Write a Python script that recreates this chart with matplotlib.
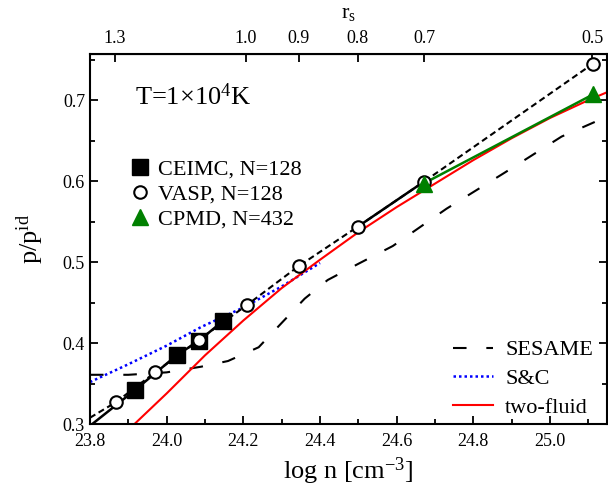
import numpy as np
import matplotlib.pyplot as plt
from matplotlib.lines import Line2D
from matplotlib.ticker import MultipleLocator, FormatStrFormatter

plt.rcParams['font.family'] = 'Liberation Serif'
plt.rcParams['mathtext.fontset'] = 'custom'
plt.rcParams['mathtext.rm'] = 'Liberation Serif'
plt.rcParams['mathtext.it'] = 'Liberation Serif:italic'

# log n = LOGN_RS1 - 3 log10(r_s)
LOGN_RS1 = 24.2071
rs_ticks = [1.3, 1.0, 0.9, 0.8, 0.7, 0.5]

# simulation data
ceimc_logn = [23.917, 24.026, 24.084, 24.146]
ceimc_p = [0.342, 0.385, 0.403, 0.427]
ceimc_line_logn = [23.80, 23.917, 24.026, 24.084, 24.146]
ceimc_line_p = [0.298, 0.342, 0.385, 0.403, 0.427]

vasp_logn = [23.867, 23.970, 24.084, 24.209, 24.344, 24.499, 24.670, 25.112]
vasp_p = [0.327, 0.364, 0.404, 0.447, 0.495, 0.544, 0.599, 0.745]
vasp_line_logn = [23.80] + vasp_logn
vasp_line_p = [0.308] + vasp_p
vasp_seg_logn = [24.499, 24.670]
vasp_seg_p = [0.544, 0.599]

cpmd_logn = [24.670, 25.112]
cpmd_p = [0.597, 0.707]

# models
sesame_logn = [23.80, 23.90, 24.00, 24.09, 24.16, 24.24, 24.30, 24.36, 24.42,
               24.50, 24.59, 24.73, 24.88, 25.03, 25.15]
sesame_p = [0.361, 0.361, 0.364, 0.371, 0.378, 0.395, 0.425, 0.455, 0.478,
            0.498, 0.520, 0.566, 0.610, 0.655, 0.680]

sc_logn = [23.80, 23.90, 24.00, 24.09, 24.20, 24.30, 24.40]
sc_p = [0.352, 0.374, 0.397, 0.420, 0.444, 0.470, 0.499]

tf_logn = [23.90, 24.00, 24.10, 24.20, 24.30, 24.40, 24.50, 24.60, 24.70,
           24.80, 24.90, 25.00, 25.10, 25.15]
tf_p = [0.293, 0.338, 0.385, 0.428, 0.468, 0.503, 0.537, 0.568, 0.597,
        0.626, 0.653, 0.678, 0.700, 0.710]

fig = plt.figure(figsize=(6.08, 4.95), dpi=100)
ax = fig.add_axes([0.148, 0.143, 0.850, 0.748])

ax.plot(sesame_logn, sesame_p, color='k', lw=1.5, dashes=(6.5, 9.5))
ax.plot(sc_logn, sc_p, color='blue', lw=1.8, ls=(0, (1, 1.2)))
ax.plot(tf_logn, tf_p, color='red', lw=1.5)
ax.plot(vasp_line_logn, vasp_line_p, color='k', lw=1.5, dashes=(3, 1.8))
ax.plot(vasp_seg_logn, vasp_seg_p, color='k', lw=1.8)
ax.plot(ceimc_line_logn, ceimc_line_p, color='k', lw=1.8)
ax.plot(cpmd_logn, cpmd_p, color='green', lw=1.8)

ax.plot(ceimc_logn, ceimc_p, ls='none', marker='s', ms=11, color='k')
ax.plot(vasp_logn, vasp_p, ls='none', marker='o', ms=9, mfc='white',
        mec='k', mew=1.5)
ax.plot(cpmd_logn, cpmd_p, ls='none', marker='^', ms=12, color='green')

ax.set_xlim(23.8, 25.148)
ax.set_ylim(0.3, 0.757)
ax.xaxis.set_major_locator(MultipleLocator(0.2))
ax.xaxis.set_minor_locator(MultipleLocator(0.1))
ax.yaxis.set_major_locator(MultipleLocator(0.1))
ax.yaxis.set_minor_locator(MultipleLocator(0.05))
ax.xaxis.set_major_formatter(FormatStrFormatter('%.1f'))
ax.yaxis.set_major_formatter(FormatStrFormatter('%.1f'))
ax.tick_params(which='both', direction='in', top=False, right=True,
               labelsize=13, width=1.3)
ax.tick_params(which='major', length=6)
ax.tick_params(which='minor', length=3.5)
ax.tick_params(axis='x', which='major', pad=6)
for s in ax.spines.values():
    s.set_linewidth(1.5)

ax.set_xlabel('log n [cm$^{-3}$]', fontsize=19, labelpad=4)
ax.set_ylabel('p/p$^{\\mathrm{id}}$', fontsize=19, labelpad=12)

secax = ax.secondary_xaxis(
    'top',
    functions=(lambda x: 10 ** ((LOGN_RS1 - x) / 3),
               lambda r: LOGN_RS1 - 3 * np.log10(r)))
secax.set_xticks(rs_ticks)
secax.xaxis.set_major_formatter(FormatStrFormatter('%.1f'))
secax.xaxis.set_minor_locator(plt.NullLocator())
secax.tick_params(direction='in', length=6, width=1.3, labelsize=13, pad=5)
secax.set_xlabel('r$_{\\mathrm{s}}$', fontsize=16, labelpad=9)

ax.text(0.087, 0.862, 'T=1$\\times$10$^{4}$K', transform=ax.transAxes,
        fontsize=19, va='baseline')

marker_handles = [
    Line2D([], [], ls='none', marker='s', ms=11, color='k'),
    Line2D([], [], ls='none', marker='o', ms=9, mfc='white', mec='k', mew=1.5),
    Line2D([], [], ls='none', marker='^', ms=12, color='green'),
]
leg1 = ax.legend(marker_handles, ['CEIMC, N=128', 'VASP, N=128', 'CPMD, N=432'],
                 loc='upper left', bbox_to_anchor=(0.05, 0.745), frameon=False,
                 fontsize=16, handletextpad=0.2, labelspacing=0.2,
                 borderpad=0, handlelength=1.2)
ax.add_artist(leg1)

line_handles = [
    Line2D([], [], color='k', lw=1.5, dashes=(6.5, 9.5)),
    Line2D([], [], color='blue', lw=1.8, ls=(0, (1, 1.2))),
    Line2D([], [], color='red', lw=1.5),
]
ax.legend(line_handles, ['SESAME', 'S&C', 'two-fluid'], loc='lower right',
          bbox_to_anchor=(0.995, -0.012), frameon=False, fontsize=16,
          handlelength=1.8, handletextpad=0.55, labelspacing=0.36, borderpad=0)

fig.savefig('out.png', dpi=100)
